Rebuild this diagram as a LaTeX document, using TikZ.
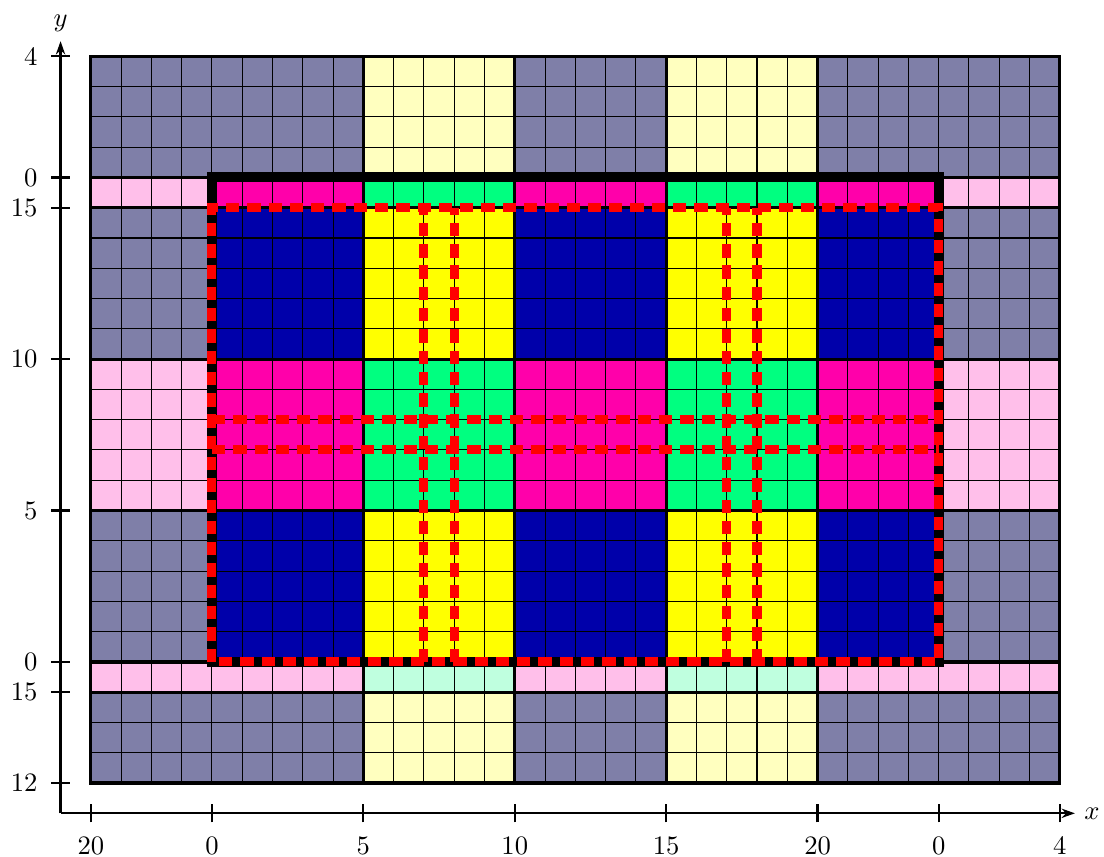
\documentclass[tikz,border=0pt]{standalone}
\usetikzlibrary{arrows.meta}
\definecolor{slate}{RGB}{127,127,168}
\definecolor{dblue}{RGB}{0,0,170}
\definecolor{mag}{RGB}{255,0,170}
\definecolor{grn}{RGB}{0,255,128}
\definecolor{ylw}{RGB}{255,255,0}
\definecolor{lpink}{RGB}{255,191,234}
\definecolor{lylw}{RGB}{255,255,191}
\definecolor{lgrn}{RGB}{191,255,223}

\begin{document}
\begin{tikzpicture}[x=0.4cm, y=0.4cm, font=\fontsize{10}{12}\selectfont]
\tikzset{
  blk/.style={draw=black, line width=1.2pt},
  cellgrid/.style={black, line width=0.4pt},
  border/.style={black, line width=3.75pt},
  cut/.style={red, line width=3.4pt, dash pattern=on 5pt off 3pt},
  axis/.style={-{Stealth[length=5pt,width=3.5pt]}, line width=0.8pt},
  tick/.style={line width=0.8pt},
}
\useasboundingbox (-3.0,-2.44) rectangle (33.46,25.86);

% blocks: x1/y1/x2/y2/colour
\def\blocklist{
  0/20/9/24/slate, 9/20/14/24/lylw, 14/20/19/24/slate, 19/20/24/24/lylw, 24/20/32/24/slate,
  0/19/4/20/lpink, 4/19/9/20/mag, 9/19/14/20/grn, 14/19/19/20/mag, 19/19/24/20/grn, 24/19/28/20/mag, 28/19/32/20/lpink,
  0/14/4/19/slate, 4/14/9/19/dblue, 9/14/14/19/ylw, 14/14/19/19/dblue, 19/14/24/19/ylw, 24/14/28/19/dblue, 28/14/32/19/slate,
  0/9/4/14/lpink, 4/9/9/14/mag, 9/9/14/14/grn, 14/9/19/14/mag, 19/9/24/14/grn, 24/9/28/14/mag, 28/9/32/14/lpink,
  0/4/4/9/slate, 4/4/9/9/dblue, 9/4/14/9/ylw, 14/4/19/9/dblue, 19/4/24/9/ylw, 24/4/28/9/dblue, 28/4/32/9/slate,
  0/3/9/4/lpink, 9/3/14/4/lgrn, 14/3/19/4/lpink, 19/3/24/4/lgrn, 24/3/32/4/lpink,
  0/0/9/3/slate, 9/0/14/3/lylw, 14/0/19/3/slate, 19/0/24/3/lylw, 24/0/32/3/slate}
\foreach \xa/\ya/\xb/\yb/\c in \blocklist
  \fill[\c] (\xa,\ya) rectangle (\xb,\yb);
\draw[cellgrid, step=1] (0,0) grid (32,24);
\foreach \xa/\ya/\xb/\yb/\c in \blocklist
  \draw[blk] (\xa,\ya) rectangle (\xb,\yb);

% domain and cuts
\draw[border] (4,4) rectangle (28,20);
\draw[cut] (4,4) rectangle (28,19);
\foreach \x in {11,12,21,22}
  \draw[cut] (\x,4) -- (\x,19);
\foreach \y in {11,12}
  \draw[cut] (4,\y) -- (28,\y);

% axes
\coordinate (o) at (-1,-1);
\coordinate (xend) at (32.5,-1);
\coordinate (yend) at (-1,24.5);
\draw[axis] (o) -- (xend);
\draw[axis] (o) -- (yend);
\node[right] (xlab) at (xend) {$x$};
\node[above] (ylab) at (yend) {$y$};
\foreach \x/\t in {0/20, 4/0, 9/5, 14/10, 19/15, 24/20, 28/0, 32/4} {
  \draw[tick] (\x,-1.3) -- (\x,-0.7);
  \node[below] (xt\x) at (\x,-1.45) {\t};
}
\foreach \y/\t in {0/12, 3/15, 4/0, 9/5, 14/10, 19/15, 20/0, 24/4} {
  \draw[tick] (-1.3,\y) -- (-0.7,\y);
  \node[left] (yt\y) at (-1.45,\y) {\t};
}
\end{tikzpicture}
\end{document}
